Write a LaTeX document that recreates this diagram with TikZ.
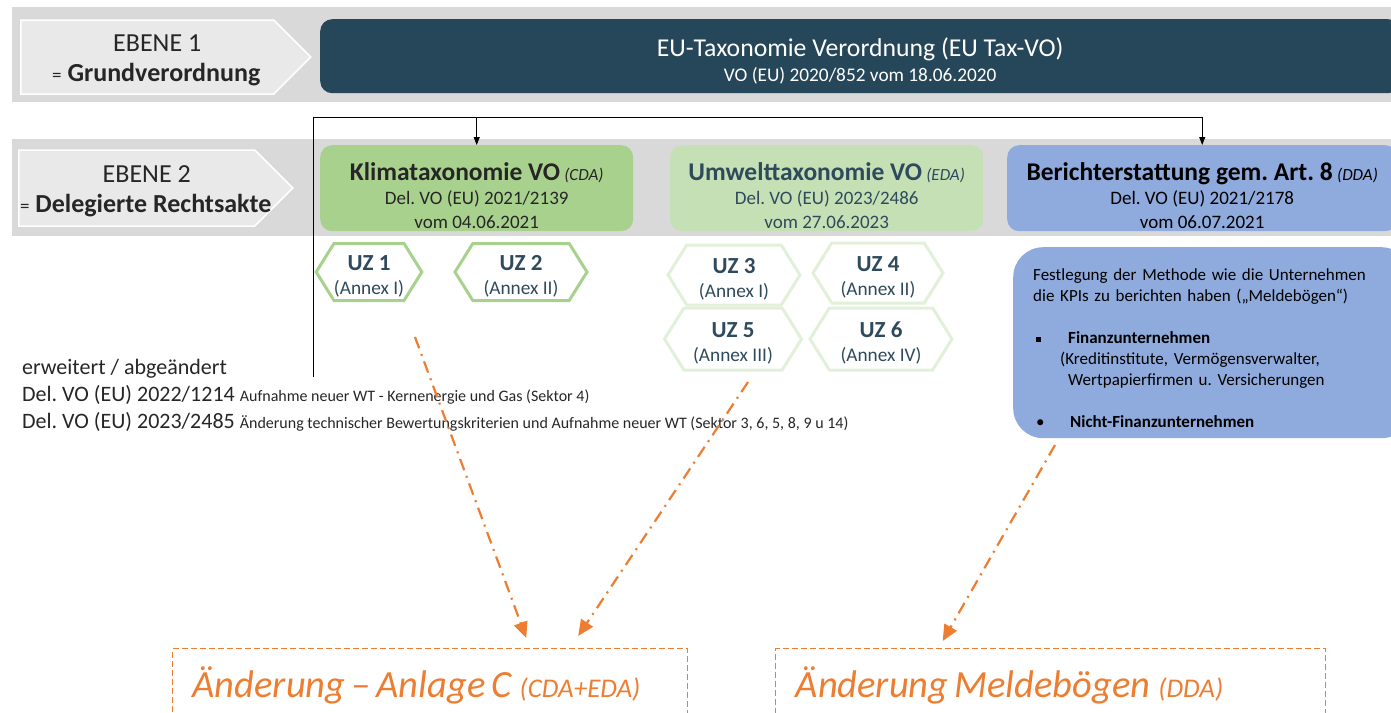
\documentclass[tikz,border=0pt]{standalone}
\usepackage{fontspec}
\setmainfont{Carlito}
\usepackage{tikz}
\usetikzlibrary{arrows.meta,shapes.symbols,positioning,calc}
\usepackage{xcolor}
\frenchspacing
\definecolor{bandgrau}{HTML}{D9D9D9}
\definecolor{ebenegrau}{HTML}{E9E9E9}
\definecolor{textgrau}{HTML}{262626}
\definecolor{dunkelblau}{HTML}{264759}
\definecolor{gruencda}{HTML}{A9D18E}
\definecolor{gruenheda}{HTML}{C5E0B4}
\definecolor{gruenhex}{HTML}{E2F0D9}
\definecolor{blaudda}{HTML}{8FAADC}
\definecolor{uztext}{HTML}{2E4A5C}
\definecolor{orangea}{HTML}{ED7D31}
\tikzset{
ebene_n/.style = {signal, signal to=east, signal pointer angle=90, fill=ebenegrau, draw=white, line width=1.5pt, align=center, text=textgrau, inner sep=0pt, font=\fontsize{26}{30}\selectfont},% Ebene-Pfeil
vo_box/.style = {rectangle, rounded corners=12pt, align=center, inner sep=0pt, minimum height=86pt, font=\fontsize{19}{24}\selectfont},% Verordnung
uz_cda/.style = {signal, signal to=west and east, signal pointer angle=116, draw=gruencda, line width=3pt, fill=white, align=center, text=uztext, inner sep=0pt, minimum height=57pt, font=\fontsize{19.3}{24}\selectfont},% Umweltziel CDA
uz_eda/.style = {uz_cda, draw=gruenhex, minimum height=60pt},% Umweltziel EDA
aend_box/.style = {rectangle, draw=orangea, line width=1.4pt, dash pattern=on 6pt off 3pt, text=orangea, anchor=north west, align=left, inner xsep=20pt, minimum height=74pt, font=\itshape},% Aenderung
aend_pfeil/.style = {draw=orangea, line width=2.2pt, dash pattern=on 12pt off 6pt on 2pt off 6pt, -{Triangle[length=16pt,width=14pt]}},
verbinder/.style = {draw=black, line width=1pt}
}
\newcommand{\titel}[1]{\rule{0pt}{32pt}{\fontsize{25.5}{26}\selectfont\bfseries #1}}
\newcommand{\uz}[1]{\rule{0pt}{24pt}{\fontsize{23}{24}\selectfont\bfseries #1}}
\newcommand{\ebenekopf}[1]{\rule{0pt}{24pt}\makebox[190pt]{\hspace{20pt}#1}}
\newcommand{\ebenezeile}[1]{\makebox[190pt]{\hspace{18pt}{\fontsize{19}{20}\selectfont =} \textbf{#1}}}
\newcommand{\aendzeile}[2]{{\fontsize{38.5}{40}\selectfont\spaceskip=6pt\relax #1}\hspace{8pt}{\fontsize{27}{28}\selectfont #2}}

\begin{document}
\begin{tikzpicture}[x=1pt,y=-1pt]
  \clip (0,0) rectangle (1391,712);
  % Hintergrundbaender
  \fill[bandgrau] (12,7) rectangle (1391,102);
  \fill[bandgrau] (12,139) rectangle (1391,236);

  % Ebene 1
  \node[ebene_n, minimum width=290pt, minimum height=74pt, anchor=west] (ebene1) at (20,57)
    {\ebenekopf{EBENE 1}\\\ebenezeile{Grundverordnung}};
  \node[vo_box, fill=dunkelblau, text=white, minimum width=1080pt, minimum height=74pt, anchor=north west] (taxvo) at (320,19)
    {\rule{0pt}{28pt}{\fontsize{25.7}{26}\selectfont EU-Taxonomie Verordnung (EU Tax-VO)}\\[1pt] {\fontsize{19.3}{24}\selectfont VO (EU) 2020/852 vom 18.06.2020}};

  % Ebene 2
  \node[ebene_n, minimum width=274pt, minimum height=76pt, anchor=west] (ebene2) at (18,188)
    {\ebenekopf{EBENE 2}\\\ebenezeile{Delegierte Rechtsakte}};
  \node[vo_box, fill=gruencda, text=textgrau, minimum width=313pt, anchor=north west] (cda) at (320,145)
    {\titel{Klimataxonomie VO} {\fontsize{17}{18}\selectfont\itshape (CDA)}\\ Del. VO (EU) 2021/2139\\ vom 04.06.2021};
  \node[vo_box, fill=gruenheda, text=uztext, minimum width=313pt, anchor=north west] (eda) at (670,145)
    {\titel{Umwelttaxonomie VO} {\fontsize{17}{18}\selectfont\itshape (EDA)}\\ Del. VO (EU) 2023/2486\\ vom 27.06.2023};
  \node[vo_box, fill=blaudda, text=black, minimum width=390pt, anchor=north west] (dda) at (1007,145)
    {\titel{Berichterstattung gem. Art. 8} {\fontsize{17}{18}\selectfont\itshape (DDA)}\\ Del. VO (EU) 2021/2178\\ vom 06.07.2021};

  % Umweltziele
  \node[uz_cda, minimum width=98pt] (uz1) at (369,272) {\uz{UZ 1}\\(Annex I)};
  \node[uz_cda, minimum width=132pt] (uz2) at (521,272) {\uz{UZ 2}\\(Annex II)};
  \node[uz_eda, minimum width=132pt] (uz3) at (734,275) {\uz{UZ 3}\\(Annex I)};
  \node[uz_eda, minimum width=130pt] (uz4) at (878,273) {\uz{UZ 4}\\(Annex II)};
  \node[uz_eda, minimum width=137pt, minimum height=62pt] (uz5) at (733,339) {\uz{UZ 5}\\(Annex III)};
  \node[uz_eda, minimum width=142pt, minimum height=62pt] (uz6) at (881,339) {\uz{UZ 6}\\(Annex IV)};

  % Meldeboegen
  \node[rectangle, rounded corners=30pt, fill=blaudda, anchor=north west, align=left, text width=358pt, inner xsep=20pt, inner ysep=0pt,
        minimum height=191pt, font=\fontsize{17}{21}\selectfont] (dda_txt) at (1013,247)
    {\rule{0pt}{23pt}Festlegung der Methode wie die Unternehmen\\
     die KPIs zu berichten haben („Meldebögen“)\\[21pt]
     \makebox[35pt][l]{\hspace*{3pt}\rule[2pt]{5pt}{5pt}}\textbf{Finanzunternehmen}\\
     \hspace*{27pt}(Kreditinstitute, Vermögensverwalter,\\
     \hspace*{35pt}Wertpapierfirmen u. Versicherungen\\[21pt]
     \makebox[37pt][l]{\hspace*{3pt}•}\textbf{Nicht-Finanzunternehmen}};

  % erweitert / abgeaendert
  \node[anchor=north west, align=left, inner sep=0pt, text=textgrau, font=\fontsize{22}{27}\selectfont] (erw_txt) at (22,359)
    {erweitert / abgeändert\\
     Del. VO (EU) 2022/1214 {\fontsize{16}{18}\selectfont Aufnahme neuer WT - Kernenergie und Gas (Sektor 4)}\\
     Del. VO (EU) 2023/2485 {\fontsize{16}{18}\selectfont Änderung technischer Bewertungskriterien und Aufnahme neuer WT (Sektor 3, 6, 5, 8, 9 u 14)}};

  \coordinate (erw) at (313,377);
  \coordinate (knick) at (313,117);
  \draw[verbinder] (erw) -- (knick) -- (knick -| dda.north);
  \draw[verbinder, -{Triangle[length=8pt,width=6pt]}] (knick -| cda.north) -- (cda.north);
  \draw[verbinder, -{Triangle[length=8pt,width=6pt]}] (knick -| dda.north) -- (dda.north);

  % Aenderungen
  \node[aend_box, minimum width=515pt, text width=475pt] (anlc) at (172,648)
    {\aendzeile{Änderung – Anlage C}{(CDA+EDA)}};
  \node[aend_box, minimum width=550pt, text width=510pt] (meld) at (775,648)
    {\aendzeile{Änderung Meldebögen}{(DDA)}};

  \coordinate (cda_aus) at (415,337);
  \coordinate (eda_aus) at (748,382);
  \coordinate (dda_aus) at (1055,445);
  \draw[aend_pfeil] (cda_aus) -- ([xshift=96pt,yshift=10pt]anlc.north);
  \draw[aend_pfeil] (eda_aus) -- ([xshift=148pt,yshift=12pt]anlc.north);
  \draw[aend_pfeil] (dda_aus) -- ([xshift=-108pt,yshift=7pt]meld.north);
\end{tikzpicture}
\end{document}
